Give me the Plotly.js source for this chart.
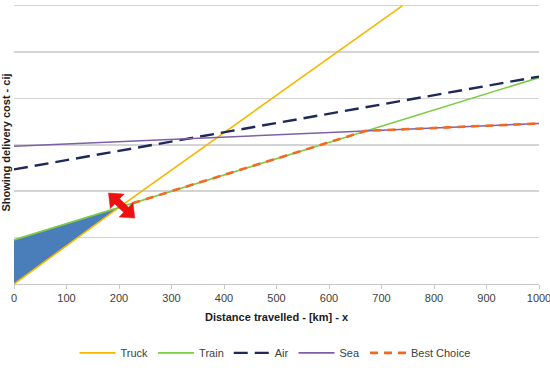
<!DOCTYPE html>
<html>
<head>
<meta charset="utf-8">
<script src="https://cdn.plot.ly/plotly-3.0.1.min.js"></script>
<style>html,body{margin:0;padding:0;background:#fff;}#chart{width:550px;height:368px;}</style>
</head>
<body>
<div id="chart"></div>
<script>
// Distances (km) and estimated costs (in gridline units)
const truckX = [0, 200, 740];
const truckY = [0, 1.65, 6.0];
const trainX = [0, 200, 1000];
const trainY = [0.95, 1.65, 4.45];
const airX = [0, 1000];
const airY = [2.47, 4.47];
const seaX = [0, 1000];
const seaY = [2.97, 3.46];
const bestX = [200, 670, 1000];
const bestY = [1.65, 3.30, 3.46];
const fillX = [0, 200, 0];
const fillY = [0, 1.65, 0.95];
const xTicks = [0, 100, 200, 300, 400, 500, 600, 700, 800, 900, 1000];
const yGrid = [0, 1, 2, 3, 4, 5, 6];
const arrowFrom = [180, 1.96];
const arrowTo = [230, 1.42];

const W = 550, H = 368;
const margin = {l: 14, r: 11, t: 1, b: 84};
const xRange = [0, 1000], yRange = [0, 6.1];
const pw = W - margin.l - margin.r, ph = H - margin.t - margin.b;
const sx = pw / (xRange[1] - xRange[0]), sy = ph / (yRange[1] - yRange[0]);

// double-headed arrow outline built in pixel space, expressed back in data units
function arrowPath(p0, p1) {
  const a = [p0[0] * sx, -p0[1] * sy], b = [p1[0] * sx, -p1[1] * sy];
  const dx = b[0] - a[0], dy = b[1] - a[1], L = Math.hypot(dx, dy);
  const u = [dx / L, dy / L], n = [-u[1], u[0]];
  const hl = 12, hw = 10, sw = 3.5;
  const P = (base, along, side) => [base[0] + u[0] * along + n[0] * side, base[1] + u[1] * along + n[1] * side];
  const pts = [a, P(a, hl, hw), P(a, hl, sw), P(b, -hl, sw), P(b, -hl, hw), b,
               P(b, -hl, -hw), P(b, -hl, -sw), P(a, hl, -sw), P(a, hl, -hw)];
  return 'M' + pts.map(p => (p[0] / sx).toFixed(3) + ',' + (-p[1] / sy).toFixed(4)).join('L') + 'Z';
}

const traces = [
  {x: fillX, y: fillY, type: 'scatter', mode: 'lines', fill: 'toself',
   fillcolor: '#4a7ebb', line: {color: '#4a7ebb', width: 0.5}, showlegend: false, hoverinfo: 'skip'},
  {x: truckX, y: truckY, type: 'scatter', mode: 'lines', name: 'Truck',
   line: {color: '#f5b700', width: 1.6}},
  {x: trainX, y: trainY, type: 'scatter', mode: 'lines', name: 'Train',
   line: {color: '#7ccc44', width: 1.6}},
  {x: airX, y: airY, type: 'scatter', mode: 'lines', name: 'Air',
   line: {color: '#1f2858', width: 2.4, dash: '14px,7px'}},
  {x: seaX, y: seaY, type: 'scatter', mode: 'lines', name: 'Sea',
   line: {color: '#7f5fa8', width: 1.6}},
  {x: bestX, y: bestY, type: 'scatter', mode: 'lines', name: 'Best Choice',
   line: {color: '#f26a21', width: 2.6, dash: '8px,6px'}}
];

const layout = {
  width: W, height: H,
  margin: margin,
  paper_bgcolor: '#ffffff', plot_bgcolor: '#ffffff',
  font: {family: 'Liberation Sans, Arial, sans-serif', color: '#404040', size: 11},
  xaxis: {
    range: xRange, tickvals: xTicks, ticktext: xTicks.map(String), automargin: false,
    ticklabeloverflow: 'allow',
    showgrid: false, zeroline: false, showline: true, linecolor: '#c8c8c8', linewidth: 1,
    ticks: 'outside', ticklen: 4, tickcolor: '#c8c8c8',
    tickfont: {size: 11, color: '#404040'},
    title: {text: '<b>Distance travelled - [km] - x</b>', font: {size: 11, color: '#202020'}, standoff: 10}
  },
  yaxis: {
    range: yRange, tickvals: yGrid, showticklabels: false, automargin: false,
    showgrid: true, gridcolor: '#d4d4d4', gridwidth: 1.5, zeroline: false, showline: false,
    title: {text: '<b>Showing delivery cost - cij</b>', font: {size: 11, color: '#202020'}, standoff: 0}
  },
  showlegend: true,
  legend: {orientation: 'h', x: 0.5, xanchor: 'center', xref: 'container',
    y: 0.041, yanchor: 'middle', yref: 'container',
    font: {size: 11, color: '#404040'}, itemwidth: 36, tracegroupgap: 0},
  shapes: [{
    type: 'path', xref: 'x', yref: 'y', path: arrowPath(arrowFrom, arrowTo),
    fillcolor: '#ee1111', line: {color: '#ee1111', width: 0.5}, layer: 'above'
  }]
};

Plotly.newPlot('chart', traces, layout, {displayModeBar: false, staticPlot: true});
</script>
</body>
</html>
